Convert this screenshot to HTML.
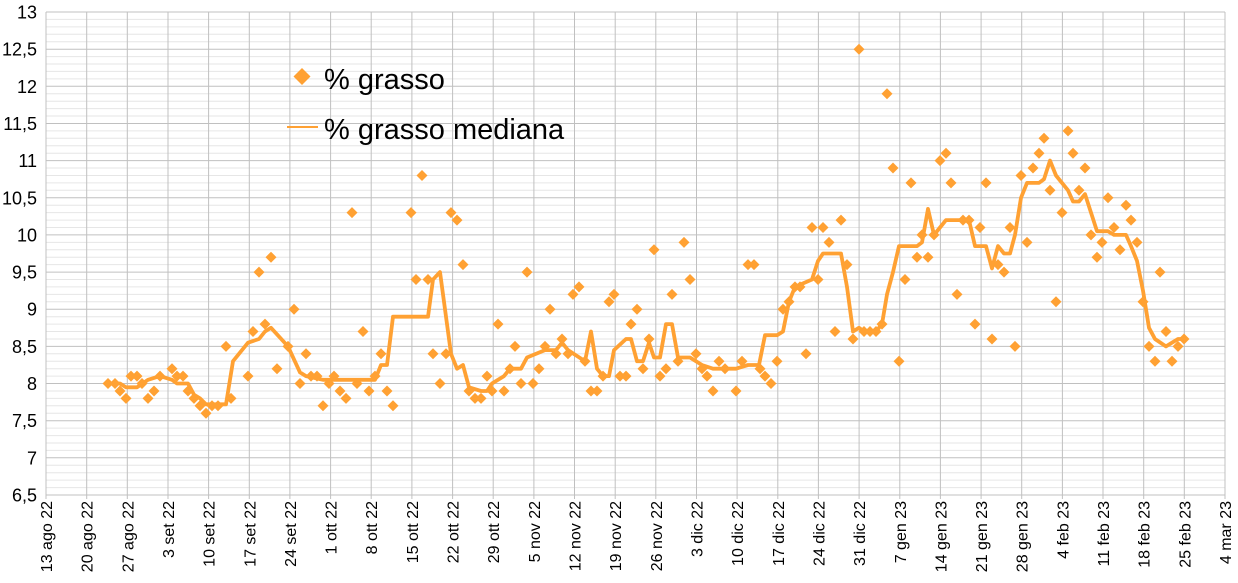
<!DOCTYPE html>
<html><head><meta charset="utf-8"><style>
html,body{margin:0;padding:0;background:#fff;}
svg{display:block;font-family:"Liberation Sans",Arial,sans-serif;}
</style></head><body>
<svg id="c" width="1238" height="583" xmlns="http://www.w3.org/2000/svg"></svg>
<script>
var s=document.getElementById('c'),h='';
var L=46,R=1225,T=12,B=495;
function Y(v){return T+(13-v)*(B-T)/6.5;}
for(var i=0;i<=65;i++){var y=T+i*(B-T)/65;if(i%5)h+='<line x1="'+L+'" x2="'+R+'" y1="'+y.toFixed(1)+'" y2="'+y.toFixed(1)+'" stroke="#e6e6e6" stroke-width="1"/>';}
for(var i=0;i<=13;i++){var y=T+i*(B-T)/13;h+='<line x1="'+L+'" x2="'+R+'" y1="'+y.toFixed(1)+'" y2="'+y.toFixed(1)+'" stroke="#c0c0c0" stroke-width="1"/>';
var v=13-i*0.5;var t=(v%1==0?v:v.toFixed(1).replace('.',','));
h+='<text x="37" y="'+(y+6.5).toFixed(1)+'" font-size="18" text-anchor="end" fill="#000">'+t+'</text>';}
var labs=["13 ago 22","20 ago 22","27 ago 22","3 set 22","10 set 22","17 set 22","24 set 22","1 ott 22","8 ott 22","15 ott 22","22 ott 22","29 ott 22","5 nov 22","12 nov 22","19 nov 22","26 nov 22","3 dic 22","10 dic 22","17 dic 22","24 dic 22","31 dic 22","7 gen 23","14 gen 23","21 gen 23","28 gen 23","4 feb 23","11 feb 23","18 feb 23","25 feb 23","4 mar 23"];
for(var i=0;i<labs.length;i++){var x=L+i*(R-L)/29;
h+='<line x1="'+x.toFixed(1)+'" x2="'+x.toFixed(1)+'" y1="'+T+'" y2="'+(B+4)+'" stroke="#c0c0c0" stroke-width="1"/>';
h+='<text transform="translate('+(x+6).toFixed(1)+',501) rotate(-90)" font-size="16" text-anchor="end" fill="#000">'+labs[i]+'</text>';}
var P=[108,8.0,115,8.0,120,7.9,126,7.8,131,8.1,137,8.1,142,8.0,148,7.8,154,7.9,160,8.1,172,8.2,177,8.1,183,8.1,188,7.9,194,7.8,200,7.7,206,7.6,212,7.7,218,7.7,226,8.5,231,7.8,248,8.1,253,8.7,259,9.5,265,8.8,271,9.7,277,8.2,288,8.5,294,9.0,300,8.0,306,8.4,311,8.1,317,8.1,323,7.7,329,8.0,334,8.1,340,7.9,346,7.8,352,10.3,357,8.0,363,8.7,369,7.9,375,8.1,381,8.4,387,7.9,393,7.7,411,10.3,416,9.4,422,10.8,428,9.4,433,8.4,440,8.0,446,8.4,451,10.3,457,10.2,463,9.6,469,7.9,475,7.8,481,7.8,487,8.1,492,7.9,498,8.8,504,7.9,510,8.2,515,8.5,521,8.0,527,9.5,533,8.0,539,8.2,545,8.5,550,9.0,556,8.4,562,8.6,568,8.4,573,9.2,579,9.3,585,8.3,591,7.9,597,7.9,603,8.1,609,9.1,614,9.2,620,8.1,626,8.1,631,8.8,637,9.0,643,8.2,649,8.6,654,9.8,660,8.1,666,8.2,672,9.2,678,8.3,684,9.9,690,9.4,696,8.4,702,8.2,707,8.1,713,7.9,719,8.3,725,8.2,736,7.9,742,8.3,748,9.6,754,9.6,760,8.2,765,8.1,771,8.0,777,8.3,783,9.0,789,9.1,795,9.3,800,9.3,806,8.4,812,10.1,818,9.4,823,10.1,829,9.9,835,8.7,841,10.2,847,9.6,853,8.6,859,12.5,864,8.7,870,8.7,876,8.7,882,8.8,887,11.9,893,10.9,899,8.3,905,9.4,911,10.7,917,9.7,922,10.0,928,9.7,934,10.0,940,11.0,946,11.1,951,10.7,957,9.2,963,10.2,969,10.2,975,8.8,980,10.1,986,10.7,992,8.6,998,9.6,1004,9.5,1010,10.1,1015,8.5,1021,10.8,1027,9.9,1033,10.9,1039,11.1,1044,11.3,1050,10.6,1056,9.1,1062,10.3,1068,11.4,1073,11.1,1079,10.6,1085,10.9,1091,10.0,1097,9.7,1102,9.9,1108,10.5,1114,10.1,1120,9.8,1126,10.4,1131,10.2,1137,9.9,1143,9.1,1149,8.5,1155,8.3,1160,9.5,1166,8.7,1172,8.3,1178,8.5,1184,8.6];
var M=[108,8.0,120,8.0,126,7.95,137,7.95,148,8.05,160,8.1,172,8.05,177,8.0,188,8.0,194,7.85,200,7.8,206,7.72,226,7.72,233,8.3,248,8.55,259,8.6,265,8.7,271,8.75,288,8.5,300,8.15,306,8.1,323,8.05,334,8.05,346,8.05,375,8.05,381,8.25,387,8.25,393,8.9,428,8.9,433,9.4,440,9.5,451,8.4,457,8.2,463,8.25,469,7.95,481,7.9,487,7.9,492,8.0,504,8.1,510,8.2,521,8.2,527,8.35,545,8.45,556,8.45,562,8.55,568,8.45,585,8.3,591,8.7,597,8.2,603,8.1,609,8.1,614,8.45,626,8.6,631,8.6,637,8.3,643,8.3,649,8.55,654,8.35,660,8.35,666,8.8,672,8.8,678,8.35,690,8.35,702,8.25,713,8.2,736,8.2,748,8.25,759,8.25,765,8.65,777,8.65,783,8.7,789,9.1,795,9.3,812,9.4,818,9.65,823,9.75,841,9.75,847,9.3,853,8.7,859,8.75,864,8.7,876,8.7,882,8.8,887,9.2,893,9.5,899,9.85,917,9.85,922,9.9,928,10.35,934,10.0,940,10.1,946,10.2,969,10.2,975,9.85,986,9.85,992,9.55,998,9.85,1004,9.75,1010,9.75,1015,10.0,1021,10.5,1027,10.7,1039,10.7,1044,10.75,1050,11.0,1056,10.8,1068,10.6,1073,10.45,1079,10.45,1085,10.55,1097,10.05,1108,10.05,1114,10.0,1126,10.0,1131,9.85,1137,9.65,1143,9.25,1149,8.75,1155,8.6,1166,8.5,1178,8.6,1184,8.6];
var pts='';for(var i=0;i<M.length;i+=2)pts+=M[i]+','+Y(M[i+1]).toFixed(1)+' ';
h+='<polyline points="'+pts+'" fill="none" stroke="#ffa133" stroke-width="3.8" stroke-linejoin="round"/>';
for(var i=0;i<P.length;i+=2){var x=P[i],y=Y(P[i+1]);h+='<path d="M'+x+' '+(y-5.5).toFixed(1)+'l5.5 5.5l-5.5 5.5l-5.5 -5.5z" fill="#ffa133"/>';}
h+='<path d="M302 68l8.5 8.5l-8.5 8.5l-8.5 -8.5z" fill="#ffa133"/>';
h+='<text x="324" y="89" font-size="29" fill="#000">% grasso</text>';
h+='<line x1="287" x2="318" y1="127" y2="127" stroke="#ffa133" stroke-width="2"/>';
h+='<text x="324" y="139" font-size="29" fill="#000">% grasso mediana</text>';
s.innerHTML=h;
</script>
</body></html>
